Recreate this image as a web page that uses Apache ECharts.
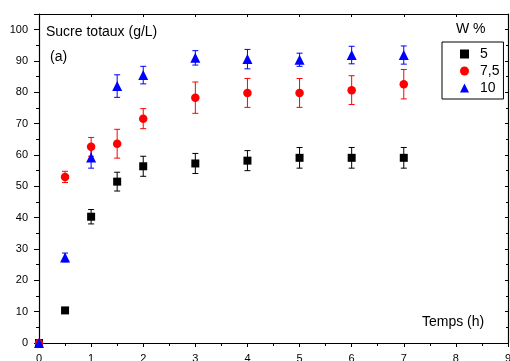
<!DOCTYPE html>
<html><head><meta charset="utf-8">
<script src="https://cdn.jsdelivr.net/npm/echarts@6/dist/echarts.min.js"></script>
<style>html,body{margin:0;padding:0;background:#fff}#c{width:510px;height:361px}</style>
</head><body><div id="c"></div>
<script>
var times = [0, 0.5, 1, 1.5, 2, 3, 4, 5, 6, 7];
var w5 = [0, 10.4, 40.3, 51.5, 56.4, 57.3, 58.2, 59.1, 59.1, 59.1];
var w5err = [0, 0, 2.3, 3.0, 3.2, 3.2, 3.2, 3.3, 3.3, 3.3];
var w75 = [0, 53.0, 62.6, 63.6, 71.6, 78.3, 79.8, 79.8, 80.7, 82.6];
var w75err = [0, 1.8, 3.0, 4.6, 3.2, 5.0, 4.6, 4.6, 4.6, 4.7];
var w10 = [0, 27.3, 59.2, 82.0, 85.5, 91.0, 90.6, 90.4, 91.9, 91.9];
var w10err = [0, 1.4, 3.4, 3.6, 2.8, 2.3, 3.1, 2.1, 2.8, 2.9];
var seriesNames = ['5', '7,5', '10'];
var xTicks = [0,1,2,3,4,5,6,7,8,9];
var yTicks = [0,10,20,30,40,50,60,70,80,90,100];

var chart = echarts.init(document.getElementById('c'), null, {renderer:'canvas'});
var font = 'Liberation Sans, Arial, sans-serif';
function pts(vals){ return times.map(function(t,i){return [t, vals[i]];}); }
function errData(vals, errs){ return times.map(function(t,i){return [t, vals[i]-errs[i], vals[i]+errs[i]];}).filter(function(d){return d[2]>d[1];}); }
function errSeries(vals, errs, color){
  return {
    type:'custom', z:1, silent:true,
    data: errData(vals, errs),
    renderItem:function(params, api){
      var lo = api.coord([api.value(0), api.value(1)]);
      var hi = api.coord([api.value(0), api.value(2)]);
      var w = 3;
      var st = {stroke:color, lineWidth:1};
      return {type:'group', children:[
        {type:'line', shape:{x1:lo[0],y1:lo[1],x2:hi[0],y2:hi[1]}, style:st},
        {type:'line', shape:{x1:lo[0]-w,y1:lo[1],x2:lo[0]+w,y2:lo[1]}, style:st},
        {type:'line', shape:{x1:hi[0]-w,y1:hi[1],x2:hi[0]+w,y2:hi[1]}, style:st}
      ]};
    }
  };
}
var axisLine = {show:true, onZero:false, lineStyle:{color:'#000', width:1.2}};
var option = {
  animation:false,
  backgroundColor:'#fff',
  grid:{left:39, right:2, top:14, bottom:18, containLabel:false, outerBoundsMode:'none'},
  xAxis:[{
    type:'value', min:0, max:9, interval:1,
    axisLine:axisLine, splitLine:{show:false},
    axisTick:{show:true, inside:false, length:4, lineStyle:{color:'#000'}},
    minorTick:{show:true, splitNumber:2, length:3, lineStyle:{color:'#000'}},
    axisLabel:{color:'#000', fontSize:11, fontFamily:font, margin:10,
      formatter:function(v){return xTicks.indexOf(v)>=0? String(v):'';}}
  },{
    type:'value', min:0, max:9, interval:1, position:'top',
    axisLine:axisLine, splitLine:{show:false},
    axisTick:{show:true, inside:true, length:3, lineStyle:{color:'#000'}},
    minorTick:{show:false},
    axisLabel:{show:false}
  }],
  yAxis:[{
    type:'value', min:0, max:105, interval:10,
    axisLine:axisLine, splitLine:{show:false},
    axisTick:{show:true, inside:false, length:5, lineStyle:{color:'#000'}},
    minorTick:{show:true, splitNumber:2, length:3, lineStyle:{color:'#000'}},
    axisLabel:{color:'#000', fontSize:11, fontFamily:font, margin:11, showMaxLabel:false,
      formatter:function(v){return yTicks.indexOf(v)>=0? String(v):'';}}
  },{
    type:'value', min:0, max:105, interval:10, position:'right',
    axisLine:axisLine, splitLine:{show:false},
    axisTick:{show:true, inside:true, length:3, lineStyle:{color:'#000'}},
    minorTick:{show:true, splitNumber:2, length:2, lineStyle:{color:'#000'}},
    axisLabel:{show:false}
  }],
  legend:{
    data:[
      {name:seriesNames[0], icon:'rect'},
      {name:seriesNames[1], icon:'circle'},
      {name:seriesNames[2], icon:'triangle'}
    ],
    orient:'vertical', left:442, top:42,
    borderColor:'#000', borderWidth:1, borderRadius:0,
    padding:[5,4,4,18], itemWidth:9, itemHeight:9, itemGap:3,
    textStyle:{color:'#000', fontSize:14, fontFamily:font, padding:[0,0,0,6], lineHeight:14}
  },
  graphic:[
    {type:'text', left:46, top:25, style:{text:'Sucre totaux (g/L)', font:'14px '+font, fill:'#000'}},
    {type:'text', left:50, top:50, style:{text:'(a)', font:'14px '+font, fill:'#000'}},
    {type:'text', left:456, top:22, style:{text:'W %', font:'14px '+font, fill:'#000'}},
    {type:'text', left:422, top:315, style:{text:'Temps (h)', font:'14px '+font, fill:'#000'}}
  ],
  series:[
    errSeries(w5, w5err, '#000'),
    errSeries(w75, w75err, '#ff0000'),
    errSeries(w10, w10err, '#0000ff'),
    {name:seriesNames[0], type:'scatter', symbol:'rect', symbolSize:8, z:3, itemStyle:{color:'#000', opacity:1}, data:pts(w5)},
    {name:seriesNames[1], type:'scatter', symbol:'circle', symbolSize:8.5, z:3, itemStyle:{color:'#ff0000', opacity:1}, data:pts(w75)},
    {name:seriesNames[2], type:'scatter', symbol:'triangle', symbolSize:10, z:3, itemStyle:{color:'#0000ff', opacity:1}, data:pts(w10)}
  ]
};
chart.setOption(option);
</script></body></html>
